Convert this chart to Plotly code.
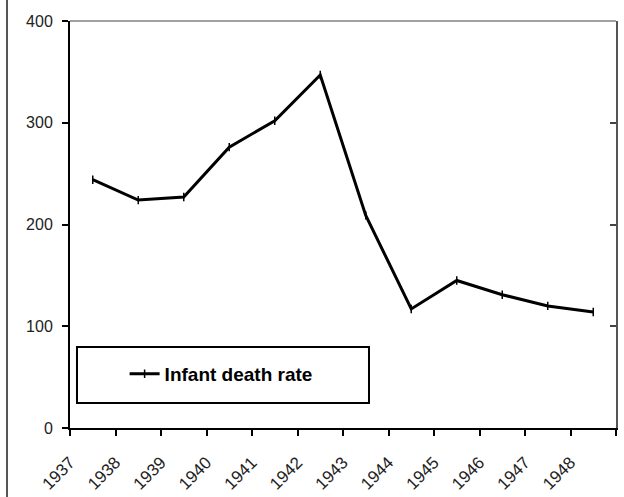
import plotly.graph_objects as go

# Data
years = [1937, 1938, 1939, 1940, 1941, 1942, 1943, 1944, 1945, 1946, 1947, 1948]
infant_death_rate = [244, 224, 227, 276, 302, 347, 209, 117, 145, 131, 120, 114]
series_name = "Infant death rate"
y_ticks = [0, 100, 200, 300, 400]

# Category boundaries (labels sit on the boundary tick left of each category)
bounds = [y - 0.5 for y in years] + [years[-1] + 0.5]
bound_text = [str(y) for y in years] + [""]

fig = go.Figure()
fig.add_trace(go.Scatter(
    x=years, y=infant_death_rate, name=series_name,
    mode="lines+markers",
    line=dict(color="black", width=3),
    marker=dict(symbol="line-ns-open", size=6, color="black",
                line=dict(color="black", width=1.5)),
    showlegend=True,
))
# invisible trace for the right-side inward ticks
fig.add_trace(go.Scatter(x=[years[0]], y=[0], yaxis="y2", mode="markers",
                         marker=dict(opacity=0), showlegend=False, hoverinfo="skip"))

font_family = "Liberation Sans, Arial, sans-serif"
fig.update_layout(
    width=624, height=497,
    margin=dict(l=70, r=8, t=21, b=69),
    paper_bgcolor="white", plot_bgcolor="white",
    font=dict(family=font_family, color="#222222"),
    xaxis=dict(
        type="linear", range=[bounds[0], bounds[-1]],
        tickmode="array", tickvals=bounds, ticktext=bound_text,
        tickangle=-45, tickfont=dict(size=17, color="#222222"),
        ticks="outside", ticklen=6, tickwidth=2, tickcolor="black",
        showline=True, linecolor="black", linewidth=2,
        showgrid=False, zeroline=False, ticklabelstandoff=10,
        automargin=False,
    ),
    yaxis=dict(
        range=[0, 400], tickmode="array", tickvals=y_ticks,
        tickfont=dict(size=16, color="#222222"),
        ticks="outside", ticklen=6, tickwidth=2, tickcolor="black",
        showline=True, linecolor="black", linewidth=2,
        showgrid=False, zeroline=False, ticklabelstandoff=6,
        automargin=False,
    ),
    yaxis2=dict(
        range=[0, 400], overlaying="y", side="right",
        tickmode="array", tickvals=y_ticks[1:-1], showticklabels=False,
        ticks="inside", ticklen=6, tickwidth=2, tickcolor="#444444",
        showline=True, linecolor="#555555", linewidth=2,
        showgrid=False, zeroline=False, automargin=False,
    ),
    legend=dict(
        x=0.10, y=0.133, xanchor="left", yanchor="middle",
        bgcolor="rgba(0,0,0,0)", borderwidth=0,
        font=dict(family=font_family, size=19, color="black", weight="bold"),
    ),
    shapes=[
        # top border of plot area
        dict(type="line", xref="paper", yref="paper", x0=0, x1=1, y0=1, y1=1,
             line=dict(color="#a0a0a0", width=2)),
        # legend box
        dict(type="rect", xref="paper", yref="paper", x0=0.0128, x1=0.5476,
             y0=0.0614, y1=0.199, line=dict(color="black", width=2)),
        # left frame line of the image
        dict(type="line", xref="paper", yref="paper", x0=-0.1154, x1=-0.1154,
             y0=-0.17, y1=1.06, line=dict(color="#555555", width=2)),
    ],
)

fig.write_html(
    "out.html",
    config={"displayModeBar": False},
    post_script="document.body.style.margin='0';document.body.style.padding='0';",
)
